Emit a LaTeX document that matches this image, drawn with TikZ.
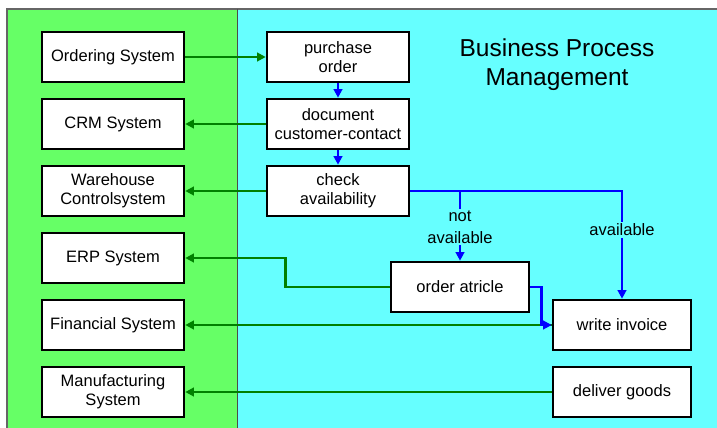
\documentclass[tikz,border=0pt]{standalone}
\usepackage{fontspec}
\setmainfont{Liberation Sans}
\usetikzlibrary{arrows.meta}

\definecolor{sysgreen}{HTML}{66FF66}
\definecolor{bpmcyan}{HTML}{66FFFF}
\definecolor{linkgreen}{HTML}{008000}
\definecolor{flowblue}{HTML}{0000FF}

\begin{document}
\begin{tikzpicture}[x=1pt,y=-1pt,>={Triangle[length=8.5pt,width=8.5pt]},node distance=67pt,
    box/.style={draw,line width=2.6pt,fill=white,minimum width=142pt,minimum height=50pt,inner sep=1pt,align=center,font=\fontsize{16.5}{19}\selectfont},
    sysline/.style={draw=linkgreen,line width=2.6pt},
    flowline/.style={draw=flowblue,line width=2.8pt},
    lbl/.style={fill=bpmcyan,inner sep=2pt,align=center,font=\fontsize{16.5}{21}\selectfont}]
    \useasboundingbox (0,0) rectangle (717,428);
    % the two areas
    \fill[sysgreen] (7,9) rectangle (237,428);
    \fill[bpmcyan] (237,9) rectangle (717,428);
    \draw[gray!80!black,line width=1.2pt] (7,428) -- (7,9) -- (717,9);
    \draw[black!70,line width=1pt] (237,9) -- (237,428);

    \node (title) at (557,65) [align=center,font=\fontsize{24.5}{29}\selectfont]{Business Process\\Management};

    % systems
    \node[box] (ord) at (113,57){Ordering System};
    \node[box] (crm) [below of = ord]{CRM System};
    \node[box] (wh) [below of = crm]{Warehouse\\Controlsystem};
    \node[box] (erp) [below of = wh]{ERP System};
    \node[box] (fin) [below of = erp]{Financial System};
    \node[box] (man) [below of = fin]{Manufacturing\\System};

    % process steps
    \node[box] (po) at (338,57){purchase\\order};
    \node[box] (doc) [below of = po]{document\\customer-contact};
    \node[box] (chk) [below of = doc]{check\\availability};
    \node[box,minimum width=138pt] (oa) at (460,287){order atricle};
    \node[box,minimum width=138pt] (wi) at (622,325){write invoice};
    \node[box,minimum width=138pt] (dg) [below of = wi]{deliver goods};

    % links to the systems
    \draw[sysline,->] (ord) -- (po);
    \draw[sysline,->] (doc) -- (crm);
    \draw[sysline,->] (chk) -- (wh);
    \draw[sysline,->] (oa.west) -- ++(-104,0) |- (erp.east);
    \draw[sysline,->] (wi) -- (fin);
    \draw[sysline,->] (dg) -- (man);

    % process flow
    \draw[flowline,->] (po) -- (doc);
    \draw[flowline,->] (doc) -- (chk);
    \draw[flowline,->] (chk.east) -| node[lbl,pos=0.68]{available} (wi.north);
    \draw[flowline,->] (chk.east -| oa.north) -- node[lbl,pos=0.52]{not\\available} (oa.north);
    \draw[flowline,->] (oa.east) -- ++(11,0) |- (wi.west);
\end{tikzpicture}
\end{document}
